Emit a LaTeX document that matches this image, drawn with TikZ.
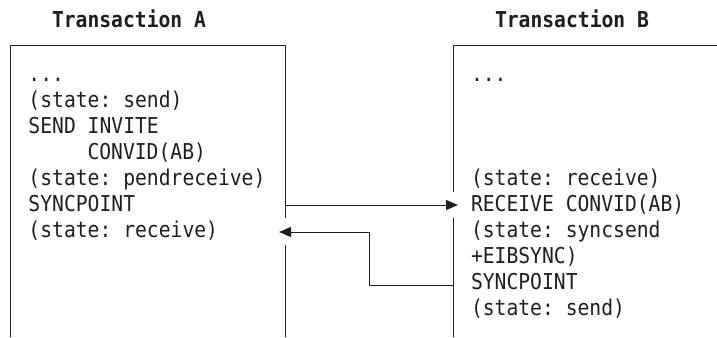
\documentclass[tikz,border=0pt]{standalone}
\usepackage{fontspec}
\newfontfamily\codefont[FakeStretch=0.9]{DejaVu Sans Mono}
\usetikzlibrary{arrows.meta}
\definecolor{ink}{HTML}{1E1E1E}

\begin{document}
\begin{tikzpicture}
  [x=0.75pt,y=-0.75pt,line width=0.75pt,color=ink,
   every node/.style={anchor=base west,inner sep=0pt,font=\codefont\fontsize{16.4}{19}\selectfont\frenchspacing},
   title/.style={font=\codefont\bfseries\fontsize{16.4}{19}\selectfont\frenchspacing},
   msg/.style={-{Triangle[length=9pt,width=7.5pt]}}]
  \useasboundingbox (0,0) rectangle (717,337);

  % headings
  \node[title] (ta) at (51.5,27) {Transaction A};
  \node[title] (tb) at (494.5,27) {Transaction B};

  % the two boxes, open at the bottom, with a gap where the messages pass
  \draw (10,337) -- (10,45) -- (285,45) -- (285,218);
  \draw (285,245) -- (285,337);
  \draw (717,45) -- (453,45) -- (453,192);
  \draw (453,218) -- (453,337);

  % Transaction A
  \node (a0) at (28,81) {...};
  \foreach \k/\dx/\txt in {1/0/(state: send),2/0/SEND INVITE,3/59/CONVID(AB),
    4/0/(state: pendreceive),5/0/SYNCPOINT,6/0/(state: receive)}
    \node (a\k) at (28+\dx,81+26*\k) {\txt};

  % Transaction B
  \node (b0) at (470.5,81) {...};
  \foreach \k/\txt in {4/(state: receive),5/RECEIVE CONVID(AB),6/(state: syncsend,
    7/+EIBSYNC),8/SYNCPOINT,9/(state: send)}
    \node (b\k) at (470.5,81+26*\k) {\txt};

  % messages
  \coordinate (aOut) at (285,205);
  \coordinate (bIn) at (458,205);
  \coordinate (bOut) at (453,285);
  \coordinate (turn) at (369,232);
  \coordinate (aIn) at (279,232);
  \draw[msg] (aOut) -- (bIn);
  \draw[msg] (bOut) -| (turn) -- (aIn);
\end{tikzpicture}
\end{document}
